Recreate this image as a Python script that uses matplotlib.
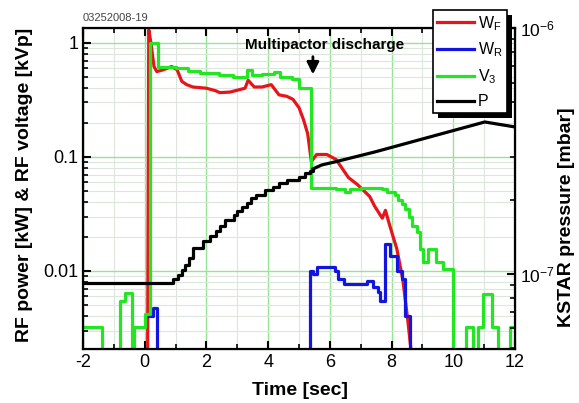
"""RF conditioning shot 03252008-19: forward/reflected power, V3 and KSTAR pressure."""
import matplotlib
matplotlib.use("Agg")
import matplotlib.pyplot as plt
from matplotlib.patches import Rectangle
from matplotlib.transforms import IdentityTransform
from matplotlib.ticker import FuncFormatter, LogLocator, MultipleLocator, NullFormatter

plt.rcParams["font.family"] = ["Liberation Sans", "DejaVu Sans"]
plt.rcParams["mathtext.default"] = "regular"
plt.rcParams["axes.unicode_minus"] = False

# values below the axis floor (1e-3) mean "zero" on the log scale
WF_T = [0.09, 0.13, 0.2, 0.3, 0.39, 0.6, 0.87, 1.05, 1.2, 1.36, 1.56, 2.0, 2.3, 2.43, 2.76,
        3.25, 3.35, 3.55, 3.8, 4.1, 4.35, 4.6, 4.8, 5.0, 5.15, 5.28, 5.4, 5.57, 5.9, 6.2,
        6.6, 6.9, 7.29, 7.45, 7.7, 7.8, 7.94, 8.17, 8.36, 8.52, 8.65]
WF_V = [1e-3, 1.3, 1.0, 0.62, 0.56, 0.58, 0.62, 0.58, 0.46, 0.43, 0.41, 0.40, 0.38, 0.366, 0.37,
        0.40, 0.47, 0.41, 0.41, 0.43, 0.35, 0.34, 0.32, 0.27, 0.21, 0.16, 0.091, 0.105, 0.105, 0.095,
        0.066, 0.057, 0.045, 0.037, 0.029, 0.034, 0.025, 0.0156, 0.0085, 0.0038, 0.0018]

WR_T = [0.1, 0.26, 0.39, 5.35, 5.45, 5.57, 6.15, 6.25, 6.45, 7.2, 7.4, 7.55, 7.63, 7.8, 7.95,
        8.17, 8.33, 8.43, 8.6, 12.0]
WR_V = [0.004, 0.0047, 1e-3, 0.01, 0.0095, 0.0108, 0.010, 0.0085, 0.0077, 0.0082, 0.0072, 0.0066,
        0.0054, 0.0172, 0.0136, 0.010, 0.0085, 0.004, 1e-3, 1e-3]

V3_T = [-2.0, -1.4, -0.8, -0.65, -0.42, -0.35, 0.0, 0.16, 0.42, 1.0, 1.4, 1.8, 2.4, 2.85, 3.33,
        3.47, 3.8, 4.2, 4.37, 4.76, 5.0, 5.4, 6.2, 6.5, 6.65, 7.0, 7.7, 7.85, 8.1, 8.2, 8.33,
        8.45, 8.55, 8.65, 8.82, 8.91, 9.01, 9.17, 9.43, 9.66, 9.98, 10.4, 10.65, 10.8, 10.95,
        11.25, 11.45, 11.85, 12.0]
V3_V = [0.0032, 1e-3, 0.0054, 0.0064, 1e-3, 0.0032, 0.0042, 1.0, 0.62, 0.60, 0.57, 0.54, 0.52,
        0.50, 0.58, 0.52, 0.53, 0.55, 0.50, 0.48, 0.40, 0.053, 0.052, 0.049, 0.052, 0.053, 0.052,
        0.049, 0.046, 0.042, 0.0385, 0.035, 0.030, 0.0247, 0.0218, 0.0156, 0.012, 0.0156, 0.012,
        0.0104, 1e-3, 0.0032, 1e-3, 0.0032, 0.0063, 0.0032, 1e-3, 0.0032, 0.0032]

# pressure: staircase part, then the smooth part
P_STEP_T = [-2.0, 0.91, 1.07, 1.2, 1.3, 1.42, 1.56, 1.9, 2.1, 2.3, 2.45, 2.6, 2.9, 3.0, 3.15,
            3.3, 3.45, 3.6, 3.9, 4.15, 4.35, 4.6, 5.0, 5.2, 5.35, 5.45]
P_STEP_V = [9.19e-8, 9.54e-8, 9.91e-8, 1.038e-7, 1.088e-7, 1.161e-7, 1.275e-7, 1.362e-7, 1.427e-7,
            1.495e-7, 1.567e-7, 1.658e-7, 1.737e-7, 1.803e-7, 1.872e-7, 1.943e-7, 2.037e-7,
            2.095e-7, 2.195e-7, 2.258e-7, 2.344e-7, 2.41e-7, 2.479e-7, 2.574e-7, 2.623e-7, 2.672e-7]
P_LINE_T = [5.45, 5.74, 6.16, 7.46, 11.02, 12.0]
P_LINE_V = [2.672e-7, 2.774e-7, 2.853e-7, 3.133e-7, 4.147e-7, 3.958e-7]

RED = "#e8141b"
BLUE = "#1414e0"
GREEN = "#22e622"
LW = 2.3

fig = plt.figure(figsize=(5.79, 4.03), dpi=100)
ax = fig.add_axes([0.1434, 0.134, 0.7461, 0.7966])

l_wf, = ax.plot(WF_T, WF_V, color=RED, lw=LW)
l_wr, = ax.step(WR_T, WR_V, where="post", color=BLUE, lw=LW)
l_v3, = ax.step(V3_T, V3_V, where="post", color=GREEN, lw=LW)

ax.set_yscale("log")
ax.set_xlim(-2, 12)
ax.set_ylim(0.00207, 1.35)
ax.xaxis.set_major_locator(MultipleLocator(2))
ax.xaxis.set_minor_locator(MultipleLocator(1))
ax.yaxis.set_major_formatter(FuncFormatter(lambda v, _: f"{v:g}"))
ax.yaxis.set_minor_formatter(NullFormatter())
ax.grid(which="major", color="#95e595", lw=1.0)
ax.grid(which="minor", color="#dce6dc", lw=0.8)
ax.set_axisbelow(True)
ax.tick_params(which="both", direction="in", top=True, labelsize=13, width=1.5)
ax.tick_params(which="major", length=6)
ax.tick_params(which="minor", length=3.5, width=1.2)
for sp in ax.spines.values():
    sp.set_linewidth(1.6)

ax2 = ax.twinx()
ax2.step(P_STEP_T, P_STEP_V, where="post", color="k", lw=LW)
l_p, = ax2.plot(P_LINE_T, P_LINE_V, color="k", lw=LW)
ax2.set_yscale("log")
ax2.set_ylim(4.95e-8, 1e-6)
ax2.yaxis.set_major_locator(LogLocator(base=10))
ax2.yaxis.set_minor_locator(LogLocator(base=10, subs=range(2, 10)))
ax2.yaxis.set_minor_formatter(NullFormatter())
ax2.tick_params(which="both", direction="in", labelsize=12.5, width=1.5)
ax2.tick_params(which="major", length=6)
ax2.tick_params(which="minor", length=3.5, width=1.2)

ax.annotate("", xy=(5.45, 0.5), xytext=(5.45, 0.8),
            arrowprops=dict(arrowstyle="-|>", color="k", lw=2, mutation_scale=18))
ax.text(5.83, 0.96, "Multipactor discharge", ha="center", va="center",
        fontsize=11, fontweight="bold")

leg = ax2.legend([l_wf, l_wr, l_v3, l_p], ["W$_F$", "W$_R$", "V$_3$", "P"],
                 loc="upper left", bbox_to_anchor=(0.748, 0.975), bbox_transform=fig.transFigure,
                 borderaxespad=0, fancybox=False, framealpha=1, edgecolor="k",
                 fontsize=11.5, handlelength=2.3, labelspacing=0.5, handletextpad=0.25,
                 borderpad=0.25)
leg.get_frame().set_linewidth(1.2)
leg.set_zorder(6)

# solid black drop shadow, offset a few pixels right and down
fig.canvas.draw()
bb = leg.get_frame().get_window_extent()
shadow = Rectangle((bb.x0 + 5, bb.y0 - 5), bb.width, bb.height, transform=IdentityTransform(),
                   facecolor="k", edgecolor="none", zorder=5.5, clip_on=False)
ax2.add_artist(shadow)

fig.text(0.143, 0.955, "03252008-19", fontsize=8, color="#444444", va="center")
fig.text(0.0415, 0.541, "RF power [kW] & RF voltage [kVp]", rotation=90, ha="center",
         va="center", fontsize=14, fontweight="bold")
fig.text(0.518, 0.032, "Time [sec]", ha="center", va="center", fontsize=14, fontweight="bold")
fig.text(0.978, 0.4615, "KSTAR pressure [mbar]", rotation=90, ha="center", va="center",
         fontsize=14, fontweight="bold")

fig.savefig("out.png", dpi=100)
